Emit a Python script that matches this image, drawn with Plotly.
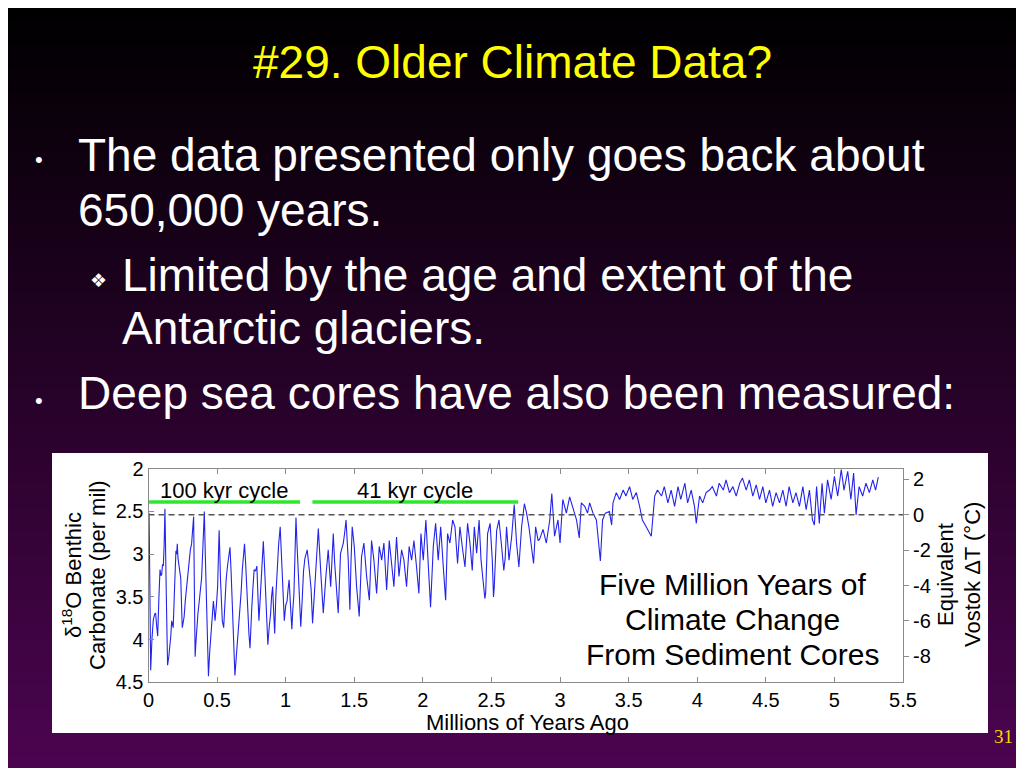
import plotly.graph_objects as go

# the page puts the figure 8px in from the top-left corner
OX, OY = 8, 8
W, H = 1024 - OX, 768 - OY

# ---- data (age in Myr, benthic d18O in per mil) ----
age_myr = [
    0.000, 0.004, 0.010, 0.016, 0.025, 0.035, 0.045, 0.052, 0.060, 0.067,
    0.076, 0.084, 0.090, 0.096, 0.102, 0.108, 0.114, 0.120, 0.130, 0.139,
    0.148, 0.156, 0.163, 0.169, 0.175, 0.180, 0.190, 0.200, 0.205, 0.210,
    0.215, 0.220, 0.228, 0.235, 0.241, 0.246, 0.253, 0.260, 0.268, 0.278,
    0.287, 0.297, 0.305, 0.314, 0.322, 0.329, 0.335, 0.340, 0.345, 0.350,
    0.360, 0.370, 0.378, 0.387, 0.397, 0.407, 0.414, 0.420, 0.428, 0.437,
    0.446, 0.456, 0.465, 0.473, 0.479, 0.485, 0.495, 0.504, 0.510, 0.515,
    0.525, 0.533, 0.538, 0.548, 0.557, 0.566, 0.575, 0.585, 0.594, 0.602,
    0.610, 0.620, 0.630, 0.640, 0.650, 0.658, 0.667, 0.675, 0.684, 0.692,
    0.700, 0.708, 0.715, 0.724, 0.732, 0.740, 0.746, 0.752, 0.761, 0.770,
    0.780, 0.790, 0.798, 0.805, 0.815, 0.825, 0.831, 0.837, 0.846, 0.855,
    0.863, 0.870, 0.880, 0.890, 0.897, 0.905, 0.913, 0.920, 0.928, 0.937,
    0.948, 0.960, 0.968, 0.975, 0.983, 0.990, 1.000, 1.010, 1.018, 1.025,
    1.035, 1.045, 1.052, 1.060, 1.068, 1.075, 1.083, 1.090, 1.098, 1.110,
    1.120, 1.130, 1.140, 1.157, 1.170, 1.185, 1.196, 1.213, 1.225, 1.238,
    1.255, 1.265, 1.274, 1.293, 1.310, 1.328, 1.347, 1.357, 1.366, 1.375,
    1.383, 1.400, 1.420, 1.430, 1.440, 1.456, 1.468, 1.476, 1.485, 1.500,
    1.517, 1.536, 1.553, 1.570, 1.590, 1.610, 1.626, 1.643, 1.663, 1.682,
    1.700, 1.716, 1.736, 1.755, 1.772, 1.789, 1.808, 1.826, 1.845, 1.862,
    1.881, 1.900, 1.918, 1.935, 1.954, 1.971, 1.986, 2.003, 2.022, 2.040,
    2.056, 2.076, 2.093, 2.112, 2.130, 2.149, 2.166, 2.180, 2.197, 2.217,
    2.234, 2.253, 2.270, 2.287, 2.307, 2.326, 2.343, 2.360, 2.375, 2.392,
    2.410, 2.424, 2.440, 2.452, 2.458, 2.472, 2.490, 2.506, 2.515, 2.520,
    2.538, 2.555, 2.574, 2.590, 2.600, 2.610, 2.628, 2.647, 2.666, 2.683,
    2.700, 2.720, 2.740, 2.756, 2.773, 2.793, 2.807, 2.822, 2.840, 2.850,
    2.876, 2.900, 2.925, 2.940, 2.960, 2.985, 3.000, 3.020, 3.046, 3.070,
    3.095, 3.120, 3.140, 3.155, 3.180, 3.200, 3.216, 3.240, 3.265, 3.277,
    3.294, 3.310, 3.330, 3.360, 3.376, 3.386, 3.410, 3.434, 3.460, 3.480,
    3.507, 3.530, 3.556, 3.580, 3.600, 3.628, 3.650, 3.665, 3.690, 3.710,
    3.740, 3.760, 3.786, 3.810, 3.835, 3.860, 3.880, 3.910, 3.930, 3.956,
    3.980, 3.993, 4.017, 4.040, 4.065, 4.090, 4.110, 4.140, 4.160, 4.190,
    4.210, 4.235, 4.260, 4.284, 4.310, 4.330, 4.357, 4.380, 4.405, 4.430,
    4.454, 4.478, 4.500, 4.527, 4.550, 4.575, 4.600, 4.624, 4.648, 4.670,
    4.697, 4.720, 4.745, 4.770, 4.794, 4.818, 4.840, 4.854, 4.870, 4.890,
    4.910, 4.927, 4.950, 4.976, 5.000, 5.024, 5.050, 5.070, 5.097, 5.120,
    5.140, 5.158, 5.180, 5.206, 5.230, 5.255, 5.280, 5.300, 5.320,
]
d18o = [
    2.55, 2.52, 3.40, 4.36, 4.00, 3.77, 3.70, 3.69, 3.85, 3.96,
    3.50, 3.18, 3.25, 3.24, 3.12, 3.14, 2.90, 2.47, 3.50, 4.30,
    4.20, 4.09, 3.95, 3.78, 3.82, 3.86, 3.40, 2.96, 3.00, 2.88,
    3.05, 3.10, 3.20, 3.28, 3.60, 3.86, 3.80, 3.73, 3.55, 3.38,
    3.20, 3.07, 2.95, 2.88, 2.70, 2.56, 3.50, 4.20, 4.05, 3.87,
    3.70, 3.55, 3.40, 3.28, 2.90, 2.50, 3.00, 3.48, 4.00, 4.43,
    4.15, 3.93, 3.70, 3.55, 3.65, 3.78, 3.60, 3.38, 3.00, 2.72,
    3.30, 3.70, 3.78, 3.86, 3.55, 3.30, 3.15, 3.00, 2.92, 3.20,
    3.55, 4.00, 4.42, 4.20, 3.97, 3.85, 3.70, 3.45, 3.18, 3.00,
    2.88, 3.10, 3.38, 3.70, 3.93, 4.10, 3.80, 3.66, 3.40, 3.18,
    3.20, 3.14, 3.50, 3.78, 3.50, 3.22, 3.00, 2.85, 3.15, 3.47,
    3.80, 4.06, 3.85, 3.70, 3.50, 3.38, 3.70, 3.93, 3.50, 3.14,
    2.90, 2.68, 3.00, 3.28, 3.55, 3.78, 3.60, 3.55, 3.40, 3.30,
    3.60, 3.88, 3.65, 3.47, 3.00, 2.57, 2.90, 3.14, 3.50, 3.85,
    3.55, 3.20, 3.05, 2.95, 3.15, 3.40, 3.81, 3.38, 3.00, 2.70,
    3.19, 3.50, 3.69, 3.26, 2.95, 3.38, 2.76, 3.10, 3.34, 3.55,
    3.69, 2.99, 2.87, 2.75, 2.60, 3.07, 3.65, 3.10, 2.68, 2.91,
    3.38, 3.73, 3.03, 2.87, 3.26, 3.54, 2.84, 3.07, 3.46, 2.91,
    3.07, 2.87, 3.42, 2.84, 3.15, 3.38, 2.80, 3.26, 2.95, 3.07,
    3.38, 2.91, 3.07, 2.84, 3.15, 3.46, 2.76, 3.07, 2.60, 3.07,
    3.62, 2.91, 2.64, 3.07, 2.68, 3.15, 3.54, 2.76, 2.87, 2.60,
    2.68, 3.11, 2.68, 2.91, 3.15, 2.64, 2.87, 3.19, 2.68, 2.99,
    2.60, 3.07, 3.34, 3.52, 3.45, 2.76, 2.64, 3.07, 3.50, 3.40,
    2.72, 2.60, 2.91, 3.19, 3.05, 2.68, 3.07, 2.80, 2.42, 2.87,
    3.15, 2.68, 2.41, 2.52, 2.68, 2.91, 3.11, 2.68, 2.84, 2.83,
    2.71, 2.87, 2.60, 2.29, 2.79, 2.60, 2.87, 2.36, 2.52, 2.33,
    2.48, 2.60, 2.81, 2.40, 2.44, 2.52, 2.40, 2.52, 2.60, 2.83,
    3.08, 2.60, 2.52, 2.50, 2.66, 2.40, 2.28, 2.36, 2.25, 2.32,
    2.21, 2.36, 2.28, 2.44, 2.60, 2.68, 2.75, 2.79, 2.32, 2.25,
    2.32, 2.21, 2.40, 2.25, 2.44, 2.21, 2.36, 2.17, 2.40, 2.25,
    2.44, 2.64, 2.32, 2.40, 2.28, 2.25, 2.21, 2.32, 2.17, 2.25,
    2.13, 2.28, 2.21, 2.32, 2.17, 2.11, 2.25, 2.13, 2.32, 2.19,
    2.36, 2.21, 2.40, 2.25, 2.44, 2.28, 2.40, 2.25, 2.44, 2.21,
    2.40, 2.28, 2.44, 2.21, 2.48, 2.25, 2.60, 2.66, 2.21, 2.64,
    2.17, 2.52, 2.13, 2.36, 2.09, 2.32, 2.01, 2.25, 2.03, 2.36,
    2.05, 2.54, 2.21, 2.32, 2.17, 2.28, 2.13, 2.25, 2.10,
]

# orbital-cycle bars across the top
cycle_labels = ["100 kyr cycle", "41 kyr cycle"]
cycle_start = [0.0, 1.195]
cycle_end = [1.105, 2.695]
cycle_bar_level = 2.39
cycle_label_level = 2.26

# Vostok temperature equivalence (right axis)
vostok_zero_d18o = 2.54
d18o_per_degree = 0.207

x_ticks = [0, 0.5, 1, 1.5, 2, 2.5, 3, 3.5, 4, 4.5, 5, 5.5]
x_tick_text = ["0", "0.5", "1", "1.5", "2", "2.5", "3", "3.5", "4", "4.5", "5", "5.5"]
y_ticks = [2, 2.5, 3, 3.5, 4, 4.5]
y_tick_text = ["2", "2.5", "3", "3.5", "4", "4.5"]
t_ticks = [-8, -6, -4, -2, 0, 2]
t_tick_text = ["-8", "-6", "-4", "-2", "0", "2"]

caption_lines = ["Five Million Years of", "Climate Change", "From Sediment Cores"]
caption_levels = [3.358, 3.768, 4.178]

slide_title = "#29. Older Climate Data?"
bullet_lines = [
    ("The data presented only goes back about", 76, 155),
    ("650,000 years.", 76, 210),
    ("Limited by the age and extent of the", 120, 275),
    ("Antarctic glaciers.", 120, 328),
    ("Deep sea cores have also been measured:", 76, 393),
]

SANS = "Liberation Sans, Arial, sans-serif"
AX_GREY = "#8a8a8a"


def px(x):
    # slide pixel -> paper fraction
    return (x - OX) / W


def py(y):
    return 1 - (y - OY) / H


fig = go.Figure()

fig.add_trace(go.Scatter(
    x=age_myr, y=d18o, mode="lines",
    line=dict(color="rgb(35,35,235)", width=1.1),
    hoverinfo="skip", showlegend=False,
))

for s, e in zip(cycle_start, cycle_end):
    fig.add_trace(go.Scatter(
        x=[s, e], y=[cycle_bar_level, cycle_bar_level], mode="lines",
        line=dict(color="#2ee82e", width=3.5),
        hoverinfo="skip", showlegend=False,
    ))

# dashed 0 degC reference on the right axis
fig.add_trace(go.Scatter(
    x=[0, 5.5], y=[0, 0], yaxis="y2", mode="lines",
    line=dict(color="#555555", width=1.5, dash="6px,4px"),
    hoverinfo="skip", showlegend=False,
))

# ---- slide background (black -> purple) and white chart card ----
shapes = []
n = 64
top_c = (0, 0, 0)
bot_c = (76, 4, 80)
for i in range(n):
    f = (i + 0.5) / n
    c = tuple(int(round(top_c[k] + (bot_c[k] - top_c[k]) * f)) for k in range(3))
    shapes.append(dict(
        type="rect", xref="paper", yref="paper", layer="below",
        x0=0, x1=1, y0=1 - (i + 1) / n - 0.001, y1=1 - i / n,
        fillcolor="rgb(%d,%d,%d)" % c, line=dict(width=0),
    ))
shapes.append(dict(
    type="rect", xref="paper", yref="paper", layer="below",
    x0=px(52), x1=px(988), y0=py(733), y1=py(453),
    fillcolor="white", line=dict(width=0),
))

ann = []
ann.append(dict(text=slide_title, x=px(512), y=py(62), xref="paper", yref="paper",
                showarrow=False, xanchor="center", yanchor="middle",
                font=dict(family=SANS, size=46, color="#ffff00")))
for txt, x, y in bullet_lines:
    ann.append(dict(text=txt, x=px(x), y=py(y), xref="paper", yref="paper",
                    showarrow=False, xanchor="left", yanchor="middle",
                    font=dict(family=SANS, size=46, color="white")))
for y in (160, 400):
    ann.append(dict(text="•", x=px(39), y=py(y), xref="paper", yref="paper",
                    showarrow=False, xanchor="center", yanchor="middle",
                    font=dict(family=SANS, size=22, color="white")))
ann.append(dict(text="❖", x=px(98), y=py(280), xref="paper", yref="paper",
                showarrow=False, xanchor="center", yanchor="middle",
                font=dict(family="DejaVu Sans", size=19, color="white")))
ann.append(dict(text="31", x=px(1003), y=py(736), xref="paper", yref="paper",
                showarrow=False, xanchor="center", yanchor="middle",
                font=dict(family="Liberation Serif, Times New Roman, serif",
                          size=19, color="#ffd700")))

# chart labels
for lab, s, e in zip(cycle_labels, cycle_start, cycle_end):
    ann.append(dict(text=lab, x=(s + e) / 2, y=cycle_label_level, xref="x", yref="y",
                    showarrow=False, xanchor="center", yanchor="middle",
                    font=dict(family=SANS, size=22, color="black")))
for line, lvl in zip(caption_lines, caption_levels):
    ann.append(dict(text=line, x=4.26, y=lvl, xref="x", yref="y",
                    showarrow=False, xanchor="center", yanchor="middle",
                    font=dict(family=SANS, size=30, color="black")))
ann.append(dict(text="Millions of Years Ago", x=px(527), y=py(722), xref="paper", yref="paper",
                showarrow=False, xanchor="center", yanchor="middle",
                font=dict(family=SANS, size=22, color="black")))
for txt, x in (("δ<sup>18</sup>O Benthic", 72), ("Carbonate (per mil)", 97)):
    ann.append(dict(text=txt, x=px(x), y=py(575), xref="paper", yref="paper",
                    showarrow=False, xanchor="center", yanchor="middle", textangle=-90,
                    font=dict(family=SANS, size=22, color="black")))
for txt, x in (("Equivalent", 945), ("Vostok ΔT (°C)", 972)):
    ann.append(dict(text=txt, x=px(x), y=py(575), xref="paper", yref="paper",
                    showarrow=False, xanchor="center", yanchor="middle", textangle=-90,
                    font=dict(family=SANS, size=22, color="black")))

t_top = (vostok_zero_d18o - 2.0) / d18o_per_degree
t_bot = (vostok_zero_d18o - 4.5) / d18o_per_degree

tickfont = dict(family=SANS, size=20, color="black")
fig.update_layout(
    width=W, height=H, autosize=False,
    margin=dict(l=0, r=0, t=0, b=0, pad=0),
    paper_bgcolor="black", plot_bgcolor="white",
    shapes=shapes, annotations=ann, showlegend=False,
    xaxis=dict(
        domain=[px(148.5), px(903)], range=[0, 5.5], automargin=False,
        tickmode="array", tickvals=x_ticks, ticktext=x_tick_text,
        ticks="inside", ticklen=5, tickcolor=AX_GREY, tickfont=tickfont,
        showline=True, linecolor=AX_GREY, linewidth=1, mirror="ticks",
        showgrid=False, zeroline=False, anchor="y",
    ),
    yaxis=dict(
        domain=[py(682.3), py(468.7)], range=[4.5, 2], automargin=False,
        tickmode="array", tickvals=y_ticks, ticktext=y_tick_text,
        ticks="inside", ticklen=5, tickcolor=AX_GREY, tickfont=tickfont,
        showline=True, linecolor=AX_GREY, linewidth=1, mirror=True,
        showgrid=False, zeroline=False, anchor="x",
    ),
    yaxis2=dict(
        overlaying="y", side="right", anchor="x", range=[t_bot, t_top],
        automargin=False,
        tickmode="array", tickvals=t_ticks, ticktext=t_tick_text,
        ticks="outside", ticklen=5, tickcolor=AX_GREY, tickfont=tickfont,
        showline=False, showgrid=False, zeroline=False,
    ),
)

fig.write_html("out.html")
